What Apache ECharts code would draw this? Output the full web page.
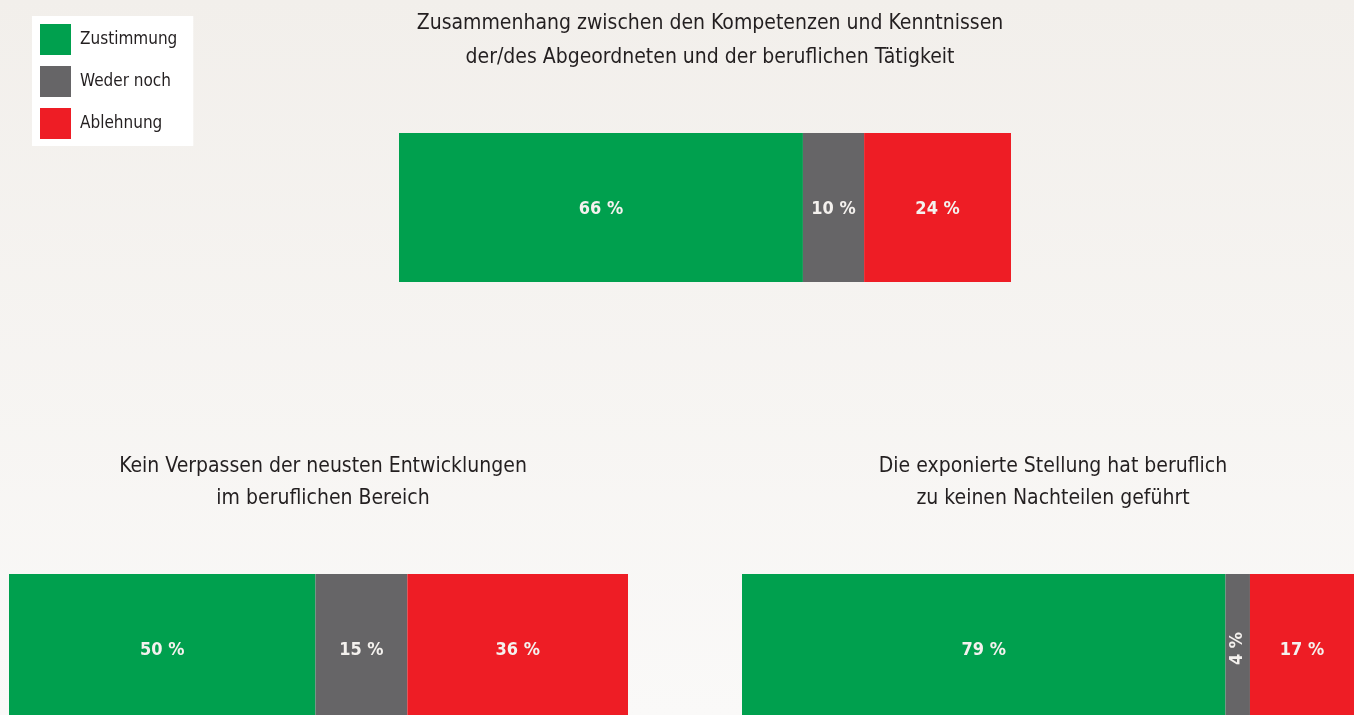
<!DOCTYPE html>
<html>
<head>
<meta charset="utf-8">
<script src="https://cdn.jsdelivr.net/npm/echarts@6/dist/echarts.min.js"></script>
<style>
html,body{margin:0;padding:0;}
#c{width:1354px;height:715px;}
</style>
</head>
<body>
<div id="c"></div>
<script>
const seriesNames = ['Zustimmung', 'Weder noch', 'Ablehnung'];
const titles = [
  'Zusammenhang zwischen den Kompetenzen und Kenntnissen\nder/des Abgeordneten und der beruflichen Tätigkeit',
  'Kein Verpassen der neusten Entwicklungen\nim beruflichen Bereich',
  'Die exponierte Stellung hat beruflich\nzu keinen Nachteilen geführt'
];
const zustimmung = [66, 50, 79];
const wederNoch = [10, 15, 4];
const ablehnung = [24, 36, 17];

const colors = ['#00a04e', '#666567', '#ee1d25'];
const FONT = '"Liberation Sans Narrow", "DejaVu Sans Condensed", "Roboto Condensed", sans-serif';

const grids = [
  { left: 399, top: 133, width: 612, height: 149, outerBoundsMode: 'none' },
  { left: 9, top: 574, width: 619, height: 149, outerBoundsMode: 'none' },
  { left: 742, top: 574, width: 612, height: 149, outerBoundsMode: 'none' }
];
const titlePos = [
  { left: 705, top: 2, lh: 34 },
  { left: 318, top: 446, lh: 32 },
  { left: 1048, top: 446, lh: 32 }
];

const values = [zustimmung, wederNoch, ablehnung];
const series = [];
const xAxes = [], yAxes = [];
grids.forEach((g, gi) => {
  const total = zustimmung[gi] + wederNoch[gi] + ablehnung[gi];
  xAxes.push({ type: 'value', gridIndex: gi, min: 0, max: total, show: false });
  yAxes.push({ type: 'category', gridIndex: gi, data: ['x'], show: false });
  seriesNames.forEach((name, si) => {
    const v = values[si][gi];
    const narrow = v < 6;
    series.push({
      type: 'bar',
      name: name,
      stack: 's' + gi,
      xAxisIndex: gi,
      yAxisIndex: gi,
      barWidth: '100%',
      itemStyle: { color: colors[si] },
      label: {
        show: true,
        position: 'inside',
        rotate: narrow ? 90 : 0,
        offset: narrow ? [0, 0] : [0, 2],
        formatter: '{c} %',
        color: '#f4f1ee',
        fontFamily: FONT,
        fontWeight: 'bold',
        fontSize: 18
      },
      emphasis: { disabled: true },
      data: [v]
    });
  });
});

const chart = echarts.init(document.getElementById('c'));
chart.setOption({
  backgroundColor: new echarts.graphic.LinearGradient(0, 0, 0, 1, [
    { offset: 0, color: '#f2efeb' },
    { offset: 1, color: '#faf9f8' }
  ]),
  animation: false,
  title: titles.map((t, i) => ({
    text: t,
    left: titlePos[i].left,
    top: titlePos[i].top,
    textAlign: 'center',
    textStyle: {
      fontFamily: FONT,
      fontWeight: 'normal',
      fontSize: 21,
      color: '#231f20',
      lineHeight: titlePos[i].lh
    }
  })),
  legend: {
    data: seriesNames,
    orient: 'vertical',
    left: 32,
    top: 16,
    icon: 'rect',
    itemWidth: 31,
    itemHeight: 31,
    itemGap: 11,
    padding: [8, 16, 7, 8],
    backgroundColor: '#ffffff',
    selectedMode: false,
    textStyle: {
      fontFamily: FONT,
      fontSize: 17,
      color: '#231f20',
      padding: [0, 0, 0, 4]
    }
  },
  grid: grids,
  xAxis: xAxes,
  yAxis: yAxes,
  series: series
});
</script>
</body>
</html>
